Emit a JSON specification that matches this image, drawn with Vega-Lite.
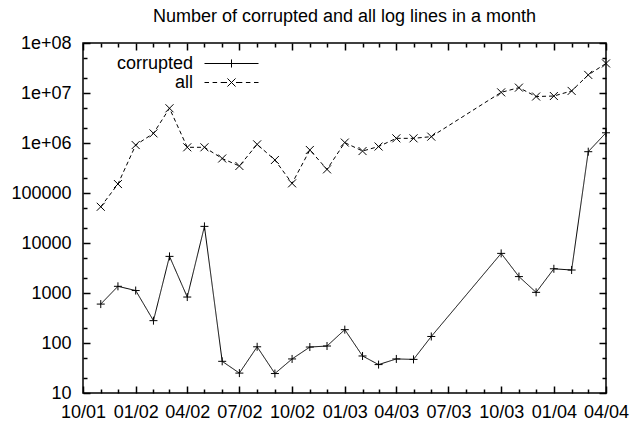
{
  "$schema": "https://vega.github.io/schema/vega-lite/v6.json",
  "width": 523,
  "height": 350,
  "autosize": {"type": "none"},
  "padding": {"left": 83, "top": 43, "right": 24, "bottom": 28},
  "background": "white",
  "title": {"text": "Number of corrupted and all log lines in a month", "font": "Liberation Sans", "fontSize": 18, "fontWeight": "normal", "color": "black", "anchor": "middle", "offset": 8},
  "config": {
    "view": {"stroke": "black", "strokeWidth": 1.5},
    "axis": {"domain": false, "grid": false, "tickColor": "black", "tickWidth": 1.5, "labelFont": "Liberation Sans", "labelFontSize": 18, "labelColor": "black", "labelFlush": false, "labelOverlap": false, "title": null}
  },
  "data": {"values": [
    {"date": "2001-11-01", "series": "corrupted", "value": 600},
    {"date": "2001-12-01", "series": "corrupted", "value": 1360},
    {"date": "2002-01-01", "series": "corrupted", "value": 1120},
    {"date": "2002-02-01", "series": "corrupted", "value": 280},
    {"date": "2002-03-01", "series": "corrupted", "value": 5400},
    {"date": "2002-04-01", "series": "corrupted", "value": 830},
    {"date": "2002-05-01", "series": "corrupted", "value": 21500},
    {"date": "2002-06-01", "series": "corrupted", "value": 43},
    {"date": "2002-07-01", "series": "corrupted", "value": 25},
    {"date": "2002-08-01", "series": "corrupted", "value": 84},
    {"date": "2002-09-01", "series": "corrupted", "value": 24.5},
    {"date": "2002-10-01", "series": "corrupted", "value": 48},
    {"date": "2002-11-01", "series": "corrupted", "value": 83},
    {"date": "2002-12-01", "series": "corrupted", "value": 87},
    {"date": "2003-01-01", "series": "corrupted", "value": 185},
    {"date": "2003-02-01", "series": "corrupted", "value": 55},
    {"date": "2003-03-01", "series": "corrupted", "value": 37},
    {"date": "2003-04-01", "series": "corrupted", "value": 48},
    {"date": "2003-05-01", "series": "corrupted", "value": 47},
    {"date": "2003-06-01", "series": "corrupted", "value": 135},
    {"date": "2003-10-01", "series": "corrupted", "value": 6200},
    {"date": "2003-11-01", "series": "corrupted", "value": 2130},
    {"date": "2003-12-01", "series": "corrupted", "value": 1030},
    {"date": "2004-01-01", "series": "corrupted", "value": 3050},
    {"date": "2004-02-01", "series": "corrupted", "value": 2880},
    {"date": "2004-03-01", "series": "corrupted", "value": 670000},
    {"date": "2004-04-01", "series": "corrupted", "value": 1600000},
    {"date": "2001-11-01", "series": "all", "value": 53000},
    {"date": "2001-12-01", "series": "all", "value": 151000},
    {"date": "2002-01-01", "series": "all", "value": 910000},
    {"date": "2002-02-01", "series": "all", "value": 1560000},
    {"date": "2002-03-01", "series": "all", "value": 4950000},
    {"date": "2002-04-01", "series": "all", "value": 820000},
    {"date": "2002-05-01", "series": "all", "value": 820000},
    {"date": "2002-06-01", "series": "all", "value": 490000},
    {"date": "2002-07-01", "series": "all", "value": 347000},
    {"date": "2002-08-01", "series": "all", "value": 940000},
    {"date": "2002-09-01", "series": "all", "value": 457000},
    {"date": "2002-10-01", "series": "all", "value": 156000},
    {"date": "2002-11-01", "series": "all", "value": 725000},
    {"date": "2002-12-01", "series": "all", "value": 297000},
    {"date": "2003-01-01", "series": "all", "value": 1020000},
    {"date": "2003-02-01", "series": "all", "value": 690000},
    {"date": "2003-03-01", "series": "all", "value": 850000},
    {"date": "2003-04-01", "series": "all", "value": 1240000},
    {"date": "2003-05-01", "series": "all", "value": 1240000},
    {"date": "2003-06-01", "series": "all", "value": 1340000},
    {"date": "2003-10-01", "series": "all", "value": 10300000},
    {"date": "2003-11-01", "series": "all", "value": 12800000},
    {"date": "2003-12-01", "series": "all", "value": 8500000},
    {"date": "2004-01-01", "series": "all", "value": 8700000},
    {"date": "2004-02-01", "series": "all", "value": 11000000},
    {"date": "2004-03-01", "series": "all", "value": 23000000},
    {"date": "2004-04-01", "series": "all", "value": 39000000}
  ]},
  "resolve": {"scale": {"shape": "independent"}, "axis": {"x": "independent", "y": "independent"}},
  "layer": [
    {
      "mark": {"type": "line", "color": "black", "strokeWidth": 1},
      "encoding": {
        "x": {"field": "date", "type": "temporal",
          "scale": {"type": "utc", "nice": false, "domain": [{"year": 2001, "month": 10, "date": 1, "utc": true}, {"year": 2004, "month": 4, "date": 1, "utc": true}]},
          "axis": {"orient": "bottom", "tickCount": {"interval": "month", "step": 1},
            "tickSize": {"condition": {"test": "utcmonth(datum.value) % 3 == 0", "value": -7}, "value": -4},
            "labelExpr": "utcmonth(datum.value) % 3 == 0 ? utcFormat(datum.value, '%m/%y') : ''",
            "labelPadding": 17}},
        "y": {"field": "value", "type": "quantitative",
          "scale": {"type": "log", "domain": [10, 100000000], "nice": false},
          "axis": {"orient": "left",
            "values": [10, 20, 50, 100, 200, 500, 1000, 2000, 5000, 10000, 20000, 50000, 100000, 200000, 500000, 1000000, 2000000, 5000000, 10000000, 20000000, 50000000, 100000000],
            "tickSize": {"condition": {"test": "indexof([10,100,1000,10000,100000,1000000,10000000,100000000], datum.value) >= 0", "value": -7}, "value": -4},
            "labelExpr": "indexof([10,100,1000,10000,100000,1000000,10000000,100000000], datum.value) < 0 ? '' : (datum.value >= 1000000 ? '1e+0' + round(log(datum.value)/LN10) : format(datum.value, 'd'))",
            "labelPadding": 19}},
        "strokeDash": {"field": "series", "type": "nominal",
          "scale": {"domain": ["corrupted", "all"], "range": [[1, 0], [4, 3]]}, "legend": null}
      }
    },
    {
      "mark": {"type": "point", "filled": false, "stroke": "black", "strokeWidth": 1, "opacity": 1, "size": 64},
      "encoding": {
        "x": {"field": "date", "type": "temporal",
          "axis": {"orient": "top", "labels": false, "tickCount": {"interval": "month", "step": 1},
            "tickSize": {"condition": {"test": "utcmonth(datum.value) % 3 == 0", "value": -7}, "value": -4}}},
        "y": {"field": "value", "type": "quantitative",
          "axis": {"orient": "right", "labels": false,
            "values": [10, 20, 50, 100, 200, 500, 1000, 2000, 5000, 10000, 20000, 50000, 100000, 200000, 500000, 1000000, 2000000, 5000000, 10000000, 20000000, 50000000, 100000000],
            "tickSize": {"condition": {"test": "indexof([10,100,1000,10000,100000,1000000,10000000,100000000], datum.value) >= 0", "value": -7}, "value": -4}}},
        "shape": {"field": "series", "type": "nominal",
          "scale": {"domain": ["corrupted", "all"], "range": ["M-1,0L1,0M0,-1L0,1", "M-1,-1L1,1M-1,1L1,-1"]}, "legend": null}
      }
    },
    {
      "transform": [{"filter": "false"}],
      "mark": {"type": "point", "filled": false, "stroke": "black", "strokeWidth": 1, "size": 324},
      "encoding": {
        "shape": {"field": "series", "type": "nominal",
          "scale": {"domain": ["corrupted", "all"], "range": [
            "M-3,0L3,0M0,-0.45L0,0.45",
            "M-3,0L-2.5,0M-2.1,0L-1.6,0M-1.2,0L-0.5,0M0.5,0L1.2,0M1.6,0L2.1,0M2.5,0L3,0M-0.45,-0.45L0.45,0.45M-0.45,0.45L0.45,-0.45"]},
          "legend": {"orient": "none", "legendX": 139, "legendY": 11, "title": null, "padding": 0, "rowPadding": -1,
            "labelFont": "Liberation Sans", "labelFontSize": 18, "labelColor": "black", "labelAlign": "right", "labelOffset": -48,
            "symbolStrokeColor": "black", "symbolStrokeWidth": 1, "symbolFillColor": "transparent", "symbolOpacity": 1, "symbolSize": 324}}
      }
    }
  ]
}
